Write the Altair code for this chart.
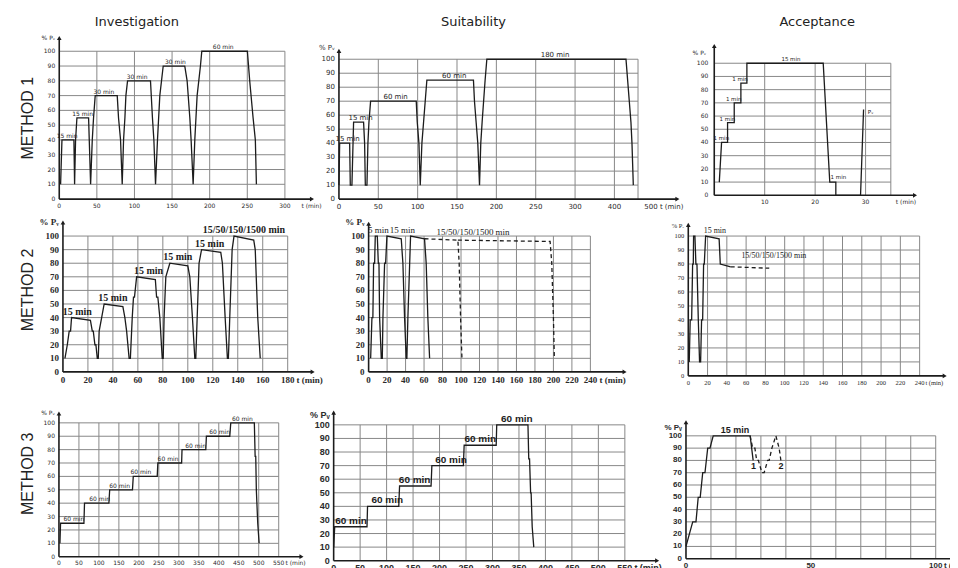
import altair as alt
import pandas as pd

# ---------------- text ----------------
COLUMNS = ["Investigation", "Suitability", "Acceptance"]
ROWS = ["METHOD 1", "METHOD 2", "METHOD 3"]
Y_TICKS = list(range(0, 101, 10))
Y_GRID = list(range(10, 101, 10))
PV = "% P\u1d65"

# ---------------- Method 1 ----------------
m1_inv_t = [1.8, 3.6, 19.5, 20.4, 21.7, 23.5, 39.0, 39.9, 41.7, 43.9, 45.6, 47.8, 77.1, 78.8, 81.5, 83.7,
            85.5, 87.3, 88.6, 90.8, 121.3, 123.9, 125.8, 128.0, 130.6, 133.7, 138.2, 166.9, 170.0, 173.6,
            175.3, 178.0, 180.2, 183.3, 187.7, 189.5, 250.1, 253.2, 257.7, 260.7, 262.1]
m1_inv_p = [10, 40, 40, 10, 40, 55, 55, 40, 10, 40, 55, 70, 70, 55, 40, 10, 40, 55, 70, 80, 80, 55, 40, 10,
            40, 70, 90, 90, 80, 55, 40, 10, 40, 70, 90, 100, 100, 80, 55, 40, 10]
m1_inv_lab = ["15 min", "15 min", "30 min", "30 min", "30 min", "60 min"]
m1_inv_lab_t = [10.5, 31, 59.4, 103.6, 154.5, 218]
m1_inv_lab_p = [40, 55, 70, 80, 90, 100]
m1_inv_xticks = [0, 50, 100, 150, 200, 250, 300]
m1_inv_xlabels = ["0", "50", "100", "150", "200", "250", "300"]

m1_suit_t = [0, 0.9, 13.6, 14.4, 16.5, 18.6, 31.3, 32.6, 33.5, 35.6, 36.8, 38.1, 40.2, 98.2, 99.5, 101.6,
             103.3, 105.4, 107.5, 109.6, 111.7, 170.9, 172.2, 174.3, 176.4, 178.6, 180.2, 181.9, 185.7,
             187.9, 364.7, 366.8, 368.9, 371.0, 372.3, 374.0]
m1_suit_p = [10, 40, 40, 10, 10, 55, 55, 40, 10, 10, 40, 55, 70, 70, 55, 40, 10, 40, 55, 70, 85, 85, 70, 55,
             40, 10, 40, 55, 85, 100, 100, 85, 70, 55, 40, 10]
m1_suit_lab = ["15 min", "15 min", "60 min", "60 min", "180 min"]
m1_suit_lab_t = [11, 27.5, 72, 146.5, 274.6]
m1_suit_lab_p = [40, 55, 70, 85, 100]
m1_suit_xticks = [0, 50, 100, 150, 200, 250, 300, 350]
m1_suit_xlabels = ["0", "50", "100", "150", "200", "250", "300", "400"]

m1_acc_t = [1.0, 1.45, 2.64, 2.64, 3.96, 3.96, 5.28, 5.28, 6.47, 6.47, 21.6, 22.9, 24.1, 24.1, 29.0, 29.6]
m1_acc_p = [10, 40, 40, 55, 55, 70, 70, 85, 85, 100, 100, 10, 10, 0, 0, 65]
m1_acc_lab = ["1 min", "1 min", "1 min", "1 min", "15 min", "1 min", "P\u1d65"]
m1_acc_lab_t = [1.4, 2.6, 3.85, 5.1, 15.2, 24.6, 31.0]
m1_acc_lab_p = [40, 55, 70, 85, 100, 11, 60]
m1_acc_xticks = [10, 20, 30]
m1_acc_xlabels = ["10", "20", "30"]

# ---------------- Method 2 ----------------
m2_inv_t = [1.6, 3.5, 5.0, 6.1, 6.9, 22.0, 23.5, 24.3, 25.6, 26.4, 27.5, 28.3, 29.0, 31.0, 33.0, 48.0, 49.6,
            51.0, 53.0, 54.0, 55.5, 56.5, 57.3, 59.0, 74.0, 75.0, 76.0, 77.6, 79.5, 80.3, 81.0, 82.4, 85.6,
            100.0, 101.6, 103.7, 105.6, 106.4, 107.5, 109.0, 111.0, 126.4, 127.7, 129.9, 131.7, 132.5, 133.6,
            135.5, 137.0, 152.8, 154.0, 156.0, 158.0]
m2_inv_p = [10, 20, 30, 30, 40, 38, 30, 30, 20, 20, 10, 10, 30, 40, 50, 48, 40, 30, 10, 10, 40, 55, 55, 70,
            68, 55, 55, 40, 10, 10, 40, 70, 80, 78, 70, 40, 10, 10, 40, 80, 90, 88, 80, 40, 10, 10, 40, 90,
            100, 97, 90, 40, 10]
m2_inv_lab = ["15 min", "15 min", "15 min", "15 min", "15 min", "15/50/150/1500 min"]
m2_inv_lab_t = [11.5, 40, 68.5, 92, 117.5, 145]
m2_inv_lab_p = [40, 50, 70, 80, 90, 100]
m2_inv_xticks = [0, 20, 40, 60, 80, 100, 120, 140, 160, 180]
m2_inv_xlabels = ["0", "20", "40", "60", "80", "100", "120", "140", "160", "180"]

m2_suit_t = [2.2, 3.6, 4.6, 5.4, 6.5, 7.2, 9.4, 10.5, 11.2, 11.9, 13.7, 14.8, 15.5, 17.3, 18.4, 19.8, 35.3,
             37.1, 38.9, 40.7, 41.4, 42.5, 45.4, 60.5, 62.3, 64.1, 66.0]
m2_suit_p = [10, 40, 40, 80, 80, 100, 100, 80, 80, 40, 10, 10, 40, 80, 80, 100, 98, 80, 40, 10, 10, 40, 100,
             98, 80, 40, 10]
m2_suit_d1_t = [60.5, 96.6, 98.0, 99.5, 101.0]
m2_suit_d1_p = [98, 97, 80, 40, 10]
m2_suit_d2_t = [96.6, 196.4, 198.2, 200.0, 201.0]
m2_suit_d2_p = [97, 96, 80, 40, 10]
m2_suit_lab = ["5 min", "15 min", "15/50/150/1500 min"]
m2_suit_lab_t = [10.5, 36.5, 113]
m2_suit_lab_p = [100, 100, 98.5]
m2_xticks_240 = [0, 20, 40, 60, 80, 100, 120, 140, 160, 180, 200, 220, 240]
m2_xlabels_240 = ["0", "20", "40", "60", "80", "100", "120", "140", "160", "180", "200", "220", "240"]

m2_acc_t = [1.0, 2.0, 3.5, 4.5, 5.2, 5.5, 6.9, 7.9, 9.0, 10.4, 11.7, 12.8, 13.8, 14.9, 15.9, 16.6, 18.0,
            32.0, 33.2, 44.0]
m2_acc_p = [10, 40, 40, 80, 80, 100, 100, 80, 80, 40, 10, 10, 40, 40, 80, 80, 100, 98, 80, 78]
m2_acc_d_t = [44.0, 84.0]
m2_acc_d_p = [78, 77]
m2_acc_lab = ["15 min", "15/50/150/1500 min"]
m2_acc_lab_t = [27.6, 88.8]
m2_acc_lab_p = [100, 82]

# ---------------- Method 3 ----------------
m3_inv_t = [2.5, 4.0, 62.5, 64.0, 125.0, 127.0, 184.0, 186.0, 246.0, 247.5, 307.0, 308.0, 367.5, 369.0,
            427.5, 430.0, 489.0, 491.0, 492.5, 494.0, 497.5, 501.0]
m3_inv_p = [10, 25, 25, 40, 40, 50, 50, 60, 60, 70, 70, 80, 80, 90, 90, 100, 100, 75, 75, 50, 25, 10]
m3_inv_lab = ["60 min"] * 8
m3_inv_lab_t = [37.5, 102, 152, 205, 273, 342, 402, 459]
m3_inv_lab_p = [25, 40, 50, 60, 70, 80, 90, 100]
m3_xticks_550 = [0, 50, 100, 150, 200, 250, 300, 350, 400, 450, 500, 550]
m3_xlabels_550 = ["0", "50", "100", "150", "200", "250", "300", "350", "400", "450", "500", "550"]

m3_suit_t = [0, 2, 63, 64, 123, 124.5, 184, 185.5, 245, 246.5, 307, 308, 367, 368.5, 370, 372, 373, 375, 378]
m3_suit_p = [10, 25, 25, 40, 40, 55, 55, 70, 70, 85, 85, 100, 100, 75, 75, 50, 50, 25, 10]
m3_suit_lab = ["60 min"] * 6
m3_suit_lab_t = [32.7, 101.3, 153, 221.6, 277, 346]
m3_suit_lab_p = [25, 40, 55, 70, 85, 100]

m3_acc_t = [0, 2.7, 4.0, 4.9, 5.7, 6.7, 7.6, 8.7, 9.6, 10.9, 25.7, 26.9]
m3_acc_p = [10, 30, 30, 50, 50, 70, 70, 90, 90, 100, 100, 80]
m3_acc_d_t = [25.7, 26.7, 27.6, 28.3, 29.0, 30.4, 31.3, 32.7, 33.3, 34.4, 36.0, 37.3, 38.0]
m3_acc_d_p = [100, 90, 90, 80, 80, 70, 70, 80, 80, 90, 100, 90, 80]
m3_acc_lab = ["15 min"]
m3_acc_lab_t = [19.6]
m3_acc_lab_p = [100]
m3_acc_mark = ["1", "2"]
m3_acc_mark_t = [27, 38]
m3_acc_mark_p = [80, 80]
m3_acc_xticks = [0, 50, 100]
m3_acc_xlabels = ["0", "50", "100"]

GRID = "#888888"
INK = "#1c1c1c"
LABC = "#2b2b2b"
SANS = "DejaVu Sans"
SERIF = "Liberation Serif"
ARIAL = "Liberation Sans"


def df_line(t, p):
    return pd.DataFrame({"t": t, "p": p, "i": list(range(len(t)))})


def rng(a, b, s):
    return list(range(a, b + 1, s))


def panel(sp):
    cw, ch = sp["cw"], sp["ch"]
    rx, ry = sp["rx"], sp["ry"]
    xmax = sp["xmax"]
    xs = alt.Scale(domain=[0, xmax], range=rx, nice=False, zero=False)
    ys = alt.Scale(domain=[0, 100], range=ry, nice=False, zero=False)
    X = lambda f: alt.X(f, axis=None)
    Y = lambda f: alt.Y(f, axis=None)

    vg = pd.DataFrame({"x": sp["gridx"], "a": 0, "b": 100})
    hg = pd.DataFrame({"y": Y_GRID, "a": 0, "b": xmax})
    layers = [
        alt.Chart(vg).mark_rule(color=GRID, strokeWidth=1).encode(
            x=alt.X("x:Q", scale=xs, axis=None),
            y=alt.Y("a:Q", scale=ys, axis=None), y2="b:Q"),
        alt.Chart(hg).mark_rule(color=GRID, strokeWidth=1).encode(
            y=Y("y:Q"), x=X("a:Q"), x2="b:Q"),
    ]
    axd = pd.DataFrame({"z": [0], "xe": [sp["xarrow"]], "ye": [sp["yarrow"]]})
    layers += [
        alt.Chart(axd).mark_rule(color=INK, strokeWidth=1.6).encode(x=X("z:Q"), x2="xe:Q", y=Y("z:Q")),
        alt.Chart(axd).mark_rule(color=INK, strokeWidth=1.6).encode(x=X("z:Q"), y=Y("z:Q"), y2="ye:Q"),
        alt.Chart(axd).mark_point(shape="triangle-right", filled=True, color=INK, size=22, opacity=1).encode(
            x=X("xe:Q"), y=Y("z:Q")),
        alt.Chart(axd).mark_point(shape="triangle-up", filled=True, color=INK, size=22, opacity=1).encode(
            x=X("z:Q"), y=Y("ye:Q")),
    ]
    for t, p in sp["solid"]:
        layers.append(alt.Chart(df_line(t, p)).mark_line(color=INK, strokeWidth=1.3).encode(
            x=X("t:Q"), y=Y("p:Q"), order="i:Q"))
    for t, p in sp.get("dashed", []):
        layers.append(alt.Chart(df_line(t, p)).mark_line(color=INK, strokeWidth=1.3, strokeDash=[4, 3]).encode(
            x=X("t:Q"), y=Y("p:Q"), order="i:Q"))
    txt_style = dict(font=sp["afont"], fontSize=sp["afs"], fontWeight=sp["afw"], color=INK)
    ann = pd.DataFrame({"txt": sp["ann"][0], "t": sp["ann"][1], "p": sp["ann"][2]})
    layers.append(alt.Chart(ann).mark_text(baseline="bottom", dy=-1, **txt_style).encode(
        x=X("t:Q"), y=Y("p:Q"), text="txt:N"))
    if "below" in sp:
        bl = pd.DataFrame({"txt": sp["below"][0], "t": sp["below"][1], "p": sp["below"][2]})
        layers.append(alt.Chart(bl).mark_text(baseline="top", dy=2, **txt_style).encode(
            x=X("t:Q"), y=Y("p:Q"), text="txt:N"))
    small = dict(font=sp["font"], fontSize=sp["fs"], fontWeight=sp["fw"], color=LABC)
    # tick labels
    xl = pd.DataFrame({"t": sp["xticks"], "p": 0, "txt": sp["xlabels"]})
    layers.append(alt.Chart(xl).mark_text(align="center", baseline="top", dy=sp.get("xpad", 4), **small).encode(
        x=X("t:Q"), y=Y("p:Q"), text="txt:N"))
    yl = pd.DataFrame({"t": 0, "p": Y_TICKS, "txt": [str(v) for v in Y_TICKS]})
    layers.append(alt.Chart(yl).mark_text(align="right", baseline="middle", dx=-sp.get("ypad", 4), **small).encode(
        x=X("t:Q"), y=Y("p:Q"), text="txt:N"))
    pv = pd.DataFrame({"t": [0], "p": [sp["pv_p"]], "txt": [PV]})
    layers.append(alt.Chart(pv).mark_text(align="right", baseline="middle", dx=-sp.get("pvdx", 4), **small).encode(
        x=X("t:Q"), y=Y("p:Q"), text="txt:N"))
    tm = pd.DataFrame({"t": [sp["tmin"]], "p": [0], "txt": [sp.get("tmin_txt", "t (min)")]})
    layers.append(alt.Chart(tm).mark_text(align="left", baseline="top", dy=sp.get("xpad", 4), **small).encode(
        x=X("t:Q"), y=Y("p:Q"), text="txt:N"))
    one = pd.DataFrame({"a": [0]})
    if "col_title" in sp:
        txt, px, py = sp["col_title"]
        layers.append(alt.Chart(one).mark_text(font=SANS, fontSize=13, color="#222", baseline="middle").encode(
            x=alt.value(px), y=alt.value(py), text=alt.value(txt)))
    if "row_title" in sp:
        txt, px, py = sp["row_title"]
        layers.append(alt.Chart(one).mark_text(font=ARIAL, fontSize=16, color="#222", angle=270,
                                               baseline="middle", align="center").encode(
            x=alt.value(px), y=alt.value(py), text=alt.value(txt)))
    if "frame" in sp:
        # invisible marker fixing the outer extent of the page
        fx, fy = sp["frame"]
        layers.append(alt.Chart(one).mark_rule(opacity=0, strokeWidth=1).encode(
            x=alt.value(fx), x2=alt.value(fx + 1), y=alt.value(fy)))
    return alt.layer(*layers).properties(width=cw, height=ch)


C1, C2, C3 = 280, 345, 285
H1, H2, H3 = 170, 180, 178

A = panel(dict(cw=C1, ch=H1, rx=[19.3, 245.2], ry=[159, 11], xmax=300, xticks=m1_inv_xticks,
               xlabels=m1_inv_xlabels,
               gridx=rng(50, 300, 50), xarrow=336, yarrow=109, fs=6, fw="normal", font=SANS,
               afont=SANS, afs=6, afw="normal", solid=[(m1_inv_t, m1_inv_p)],
               ann=(m1_inv_lab, m1_inv_lab_t, m1_inv_lab_p), pv_p=109, tmin=322,
               col_title=(COLUMNS[0], 97, -18), row_title=(ROWS[0], -12, 78), frame=(-32, -32)))
B = panel(dict(cw=C2, ch=H1, rx=[19.3, 318.7], ry=[159, 19], xmax=380, xticks=m1_suit_xticks,
               xlabels=m1_suit_xlabels,
               gridx=rng(50, 350, 50) + [380], xarrow=430, yarrow=106, fs=7, fw="normal", font=SANS,
               afont=SANS, afs=7, afw="normal", solid=[(m1_suit_t, m1_suit_p)],
               ann=(m1_suit_lab, m1_suit_lab_t, m1_suit_lab_p), pv_p=108, tmin=388,
               tmin_txt="500  t (min)", col_title=(COLUMNS[1], 154, -18)))
C = panel(dict(cw=C3, ch=H1, rx=[50, 226.75], ry=[155.2, 23], xmax=35, xticks=m1_acc_xticks,
               xlabels=m1_acc_xlabels,
               gridx=[10, 20, 30, 35], xarrow=39.8, yarrow=113, fs=6, fw="normal", font=SANS,
               afont=SANS, afs=5.5, afw="normal", solid=[(m1_acc_t, m1_acc_p)], ypad=6,
               ann=(m1_acc_lab, m1_acc_lab_t, m1_acc_lab_p), pv_p=108, pvdx=8, tmin=36,
               col_title=(COLUMNS[2], 153, -18)))

D = panel(dict(cw=C1, ch=H2, rx=[23, 248], ry=[162, 26], xmax=180, xticks=m2_inv_xticks,
               xlabels=m2_inv_xlabels,
               gridx=rng(20, 180, 20), xarrow=200, yarrow=110, fs=9, fw="bold", font=SERIF,
               afont=SERIF, afs=10, afw="bold", solid=[(m2_inv_t, m2_inv_p)],
               ann=(m2_inv_lab, m2_inv_lab_t, m2_inv_lab_p), pv_p=110, tmin=187,
               row_title=(ROWS[1], -12, 80)))
E = panel(dict(cw=C2, ch=H2, rx=[49, 271], ry=[162, 26], xmax=240, xticks=m2_xticks_240,
               xlabels=m2_xlabels_240,
               gridx=rng(20, 240, 20), xarrow=277, yarrow=109, fs=9, fw="bold", font=SERIF,
               afont=SERIF, afs=9, afw="normal", solid=[(m2_suit_t, m2_suit_p)],
               dashed=[(m2_suit_d1_t, m2_suit_d1_p), (m2_suit_d2_t, m2_suit_d2_p)],
               ann=(m2_suit_lab, m2_suit_lab_t, m2_suit_lab_p), pv_p=110, tmin=250))
F = panel(dict(cw=C3, ch=H2, rx=[24, 255.6], ry=[166, 26], xmax=240, xticks=m2_xticks_240,
               xlabels=m2_xlabels_240,
               gridx=rng(20, 240, 20), xarrow=266, yarrow=108, fs=6.5, fw="normal", font=SERIF,
               afont=SERIF, afs=8, afw="normal", solid=[(m2_acc_t, m2_acc_p)],
               dashed=[(m2_acc_d_t, m2_acc_d_p)],
               ann=(m2_acc_lab, m2_acc_lab_t, m2_acc_lab_p), pv_p=107, tmin=246))

G = panel(dict(cw=C1, ch=H3, rx=[19, 239], ry=[167, 33], xmax=550, xticks=m3_xticks_550,
               xlabels=m3_xlabels_550,
               gridx=rng(50, 550, 50), xarrow=607, yarrow=107, fs=6, fw="normal", font=SANS,
               afont=SANS, afs=6, afw="normal", solid=[(m3_inv_t, m3_inv_p)], xpad=3,
               ann=(m3_inv_lab, m3_inv_lab_t, m3_inv_lab_p), pv_p=107, tmin=567,
               row_title=(ROWS[2], -12, 84)))
H = panel(dict(cw=C2, ch=H3, rx=[14, 305.5], ry=[171, 35], xmax=550, xticks=m3_xticks_550,
               xlabels=m3_xlabels_550,
               gridx=rng(50, 550, 50), xarrow=611, yarrow=109, fs=9, fw="bold", font=ARIAL,
               afont=ARIAL, afs=10, afw="bold", solid=[(m3_suit_t, m3_suit_p)], xpad=3,
               ann=(m3_suit_lab, m3_suit_lab_t, m3_suit_lab_p), pv_p=107, tmin=568))
I = panel(dict(cw=C3, ch=H3, rx=[21.7, 271.7], ry=[169, 46], xmax=100, xticks=m3_acc_xticks,
               xlabels=m3_acc_xlabels,
               gridx=rng(10, 100, 10), xarrow=107, yarrow=111, fs=8, fw="bold", font=ARIAL,
               afont=ARIAL, afs=9, afw="bold", solid=[(m3_acc_t, m3_acc_p)], xpad=3,
               dashed=[(m3_acc_d_t, m3_acc_d_p)],
               ann=(m3_acc_lab, m3_acc_lab_t, m3_acc_lab_p),
               below=(m3_acc_mark, m3_acc_mark_t, m3_acc_mark_p), pv_p=106, tmin=103.3,
               frame=(310, 192)))

# page extent: marker top-left at page (8, 8); bottom-right marker at page (975, 582)
# svg clipped to page x<=950, y<=568
chart = alt.concat(A, B, C, D, E, F, G, H, I, columns=3, spacing=0, bounds="flush", align="each").properties(
    padding={"left": 0, "top": 0, "right": -25, "bottom": -14}
).configure_view(stroke=None)

chart.save("out.html", embed_options={"renderer": "svg", "actions": False})
